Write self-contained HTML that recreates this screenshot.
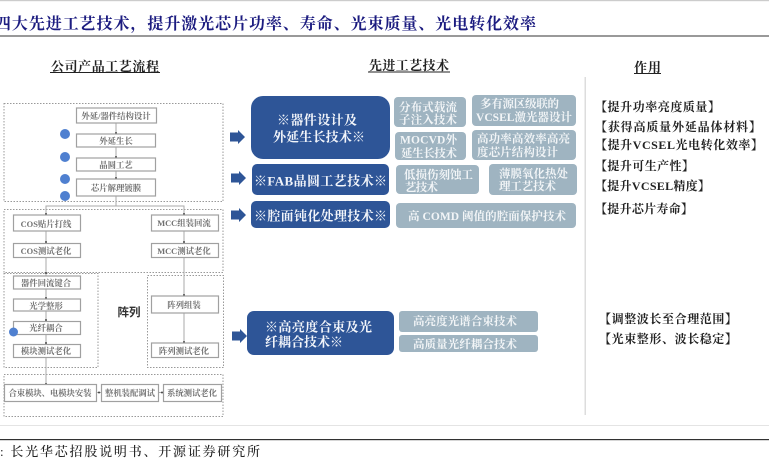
<!DOCTYPE html>
<html><head><meta charset="utf-8">
<style>
html,body{margin:0;padding:0;background:#fff;width:769px;height:461px;overflow:hidden}
svg{display:block}
text{font-family:"Liberation Serif","Noto Serif CJK SC",serif;}
.t{font-size:16px;font-weight:700;fill:#1c1c80}
.h{font-size:13px;font-weight:700;fill:#222}
.b{fill:#fff;stroke:#a0a0a0;stroke-width:1.2}
.s{font-size:8.4px;font-weight:700;fill:#707070;text-anchor:middle}
.d{fill:none;stroke:#999;stroke-width:1;stroke-dasharray:1.5 1.5}
.l{stroke:#aaa;stroke-width:1;fill:none}
.w{font-size:13px;font-weight:700;fill:#f2f5fa}
.g{font-size:11.5px;font-weight:700;fill:#f2f5f7}
.r{font-size:12px;fill:#222;font-weight:700}
.ar{fill:#2f5597}
.c{fill:#5080d0}
</style></head><body>
<svg width="769" height="461" viewBox="0 0 769 461" xmlns="http://www.w3.org/2000/svg">
<defs><filter id="bl" x="-2%" y="-2%" width="104%" height="104%"><feGaussianBlur stdDeviation="0.35"/></filter></defs>
<g filter="url(#bl)">
<rect x="0" y="0" width="769" height="1.2" fill="#ccc"/>
<text class="t" x="-5" y="29" textLength="541" lengthAdjust="spacing">四大先进工艺技术&#xFF0C;提升激光芯片功率、寿命、光束质量、光电转化效率</text>
<rect x="0" y="35" width="769" height="2" fill="#999"/>

<text class="h" x="51" y="71" textLength="108" lengthAdjust="spacing">公司产品工艺流程</text>
<rect x="50" y="72" width="110" height="1" fill="#222"/>
<text class="h" x="369" y="70" textLength="80" lengthAdjust="spacing">先进工艺技术</text>
<rect x="368" y="71.500" width="82" height="1" fill="#222"/>
<text class="h" x="634" y="72" textLength="27" lengthAdjust="spacing">作用</text>
<rect x="634" y="73" width="27" height="1" fill="#222"/>

<!-- dotted groups -->
<rect class="d" x="4" y="103.500" width="219" height="98"/>
<rect class="d" x="4" y="209.500" width="219" height="63"/>
<rect class="d" x="4" y="273.500" width="94" height="94"/>
<rect class="d" x="147.500" y="275.500" width="76" height="92"/>
<rect class="d" x="4" y="374.500" width="219" height="42"/>

<!-- connectors -->
<path class="l" d="M116 123V196M116 196V206M46 215V206H184V215M46 231V384M184 231V343"/>
<path class="l" d="M96 392.500H101M158 392.500H163"/>
<g fill="#444">
<circle cx="116" cy="133" r="1"/><circle cx="116" cy="157" r="1"/><circle cx="116" cy="178" r="1"/>
<circle cx="46" cy="214" r="1"/><circle cx="184" cy="214" r="1"/><circle cx="46" cy="242" r="1"/><circle cx="184" cy="242" r="1"/>
<circle cx="46" cy="273" r="1"/><circle cx="46" cy="298" r="1"/><circle cx="46" cy="320" r="1"/><circle cx="46" cy="343" r="1"/><circle cx="46" cy="384" r="1"/>
<circle cx="184" cy="295" r="1"/><circle cx="184" cy="342" r="1"/><circle cx="99" cy="392.500" r="1"/><circle cx="162" cy="392.500" r="1"/>
</g>

<!-- process boxes -->
<rect class="b" x="76.500" y="108" width="80" height="15"/><text class="s" x="116" y="119">外延/器件结构设计</text>
<rect class="b" x="76.500" y="134" width="79" height="13"/><text class="s" x="116" y="144">外延生长</text>
<rect class="b" x="76.500" y="158" width="79" height="13"/><text class="s" x="116" y="168">晶圆工艺</text>
<rect class="b" x="76.500" y="179" width="79" height="17"/><text class="s" x="116" y="191">芯片解理镀膜</text>
<rect class="b" x="13.500" y="215" width="67" height="16"/><text class="s" x="46" y="227">COS贴片打线</text>
<rect class="b" x="151.500" y="215" width="67" height="16"/><text class="s" x="184" y="226">MCC组装回流</text>
<rect class="b" x="13.500" y="243.500" width="67" height="14"/><text class="s" x="46" y="254">COS测试老化</text>
<rect class="b" x="151.500" y="243.500" width="67" height="14"/><text class="s" x="184" y="254">MCC测试老化</text>
<rect class="b" x="13.500" y="276" width="67" height="13"/><text class="s" x="46" y="286">器件回流键合</text>
<rect class="b" x="13.500" y="299" width="67" height="12"/><text class="s" x="46" y="309">光学整形</text>
<rect class="b" x="13.500" y="321.500" width="67" height="13"/><text class="s" x="46" y="331">光纤耦合</text>
<rect class="b" x="13.500" y="344.500" width="67" height="13"/><text class="s" x="46" y="354">模块测试老化</text>
<rect class="b" x="151.500" y="296" width="67" height="17"/><text class="s" x="184" y="308">阵列组装</text>
<rect class="b" x="151.500" y="343" width="67" height="14.500"/><text class="s" x="184" y="354">阵列测试老化</text>
<rect class="b" x="4.500" y="384.500" width="92" height="17"/><text class="s" x="50" y="396" textLength="83" lengthAdjust="spacing">合束模块、电模块安装</text>
<rect class="b" x="101.500" y="384.500" width="57" height="17"/><text class="s" x="130" y="396" textLength="50" lengthAdjust="spacing">整机装配调试</text>
<rect class="b" x="163.500" y="384.500" width="58" height="17"/><text class="s" x="192" y="396" textLength="50" lengthAdjust="spacing">系统测试老化</text>
<text x="129" y="316" text-anchor="middle" style="font-size:11.500px;font-weight:700;fill:#333;font-family:'Liberation Sans','Noto Sans CJK SC',sans-serif">阵列</text>

<circle class="c" cx="65" cy="134" r="5"/>
<circle class="c" cx="65" cy="157" r="5"/>
<circle class="c" cx="65" cy="179" r="5"/>
<circle class="c" cx="65" cy="196" r="5"/>
<circle class="c" cx="13.500" cy="332" r="4.500"/>

<!-- arrows -->
<path class="ar" d="M230 132.500H238V130L245 137L238 144V141.500H230Z"/>
<path class="ar" d="M231 173.500H239V171L246 178L239 185V182.500H231Z"/>
<path class="ar" d="M231 210.500H239V208L246 215L239 222V219.500H231Z"/>
<path class="ar" d="M232 331.500H240V329L247 336L240 343V340.500H232Z"/>

<!-- blue boxes -->
<rect x="251" y="96" width="139" height="63" rx="12" fill="#2f5597"/>
<rect x="252" y="164" width="137" height="31" rx="5" fill="#2f5597"/>
<rect x="251" y="201" width="139" height="27" rx="5" fill="#2f5597"/>
<rect x="247" y="311" width="147" height="44" rx="7" fill="#2f5597"/>
<text class="w" x="277" y="124.500" textLength="80" lengthAdjust="spacing">※器件设计及</text>
<text class="w" x="273" y="141.500" textLength="92" lengthAdjust="spacing">外延生长技术※</text>
<text class="w" x="254" y="185.500" textLength="133" lengthAdjust="spacing">※FAB晶圆工艺技术※</text>
<text class="w" x="254" y="220.500" textLength="133" lengthAdjust="spacing">※腔面钝化处理技术※</text>
<text class="w" x="265" y="331.500" textLength="107" lengthAdjust="spacing">※高亮度合束及光</text>
<text class="w" x="265" y="346.500" textLength="78" lengthAdjust="spacing">纤耦合技术※</text>

<!-- grey boxes -->
<g fill="#9fb4c1">
<rect x="394" y="97" width="72" height="30" rx="4"/>
<rect x="472" y="95" width="104" height="31" rx="4"/>
<rect x="395" y="132" width="71" height="28" rx="4"/>
<rect x="472" y="130" width="104" height="30" rx="4"/>
<rect x="396" y="165" width="83" height="29" rx="4"/>
<rect x="489" y="164" width="88" height="31" rx="4"/>
<rect x="396" y="203" width="180" height="25" rx="4"/>
<rect x="399" y="311" width="139" height="21" rx="3"/>
<rect x="399" y="335" width="139" height="17" rx="3"/>
</g>
<text class="g" x="399" y="111" textLength="58" lengthAdjust="spacing">分布式载流</text>
<text class="g" x="399" y="123.500" textLength="58" lengthAdjust="spacing">子注入技术</text>
<text class="g" x="480" y="107.500" textLength="79" lengthAdjust="spacing">多有源区级联的</text>
<text class="g" x="476" y="121" textLength="96" lengthAdjust="spacing">VCSEL激光器设计</text>
<text class="g" x="400" y="143.500" textLength="57" lengthAdjust="spacing">MOCVD外</text>
<text class="g" x="401" y="157" textLength="56" lengthAdjust="spacing">延生长技术</text>
<text class="g" x="477" y="142.500" textLength="93" lengthAdjust="spacing">高功率高效率高亮</text>
<text class="g" x="477" y="156" textLength="81" lengthAdjust="spacing">度芯片结构设计</text>
<text class="g" x="404" y="178.500" textLength="69" lengthAdjust="spacing">低损伤刻蚀工</text>
<text class="g" x="405" y="191" textLength="33" lengthAdjust="spacing">艺技术</text>
<text class="g" x="499" y="177.500" textLength="69" lengthAdjust="spacing">薄膜氧化热处</text>
<text class="g" x="499" y="190" textLength="57" lengthAdjust="spacing">理工艺技术</text>
<text class="g" x="408" y="220" textLength="158" lengthAdjust="spacing">高 COMD 阈值的腔面保护技术</text>
<text class="g" x="413" y="325" textLength="104" lengthAdjust="spacing">高亮度光谱合束技术</text>
<text class="g" x="413" y="348" textLength="104" lengthAdjust="spacing">高质量光纤耦合技术</text>

<!-- divider -->
<rect x="584.500" y="77" width="1.500" height="338" fill="#ddd"/>

<!-- effects -->
<text class="r" x="595" y="111" textLength="125" lengthAdjust="spacing">【提升功率亮度质量】</text>
<text class="r" x="595" y="131" textLength="166" lengthAdjust="spacing">【获得高质量外延晶体材料】</text>
<text class="r" x="595" y="149" textLength="168" lengthAdjust="spacing">【提升VCSEL光电转化效率】</text>
<text class="r" x="595" y="170" textLength="99" lengthAdjust="spacing">【提升可生产性】</text>
<text class="r" x="595" y="190" textLength="115" lengthAdjust="spacing">【提升VCSEL精度】</text>
<text class="r" x="595" y="213" textLength="98" lengthAdjust="spacing">【提升芯片寿命】</text>
<text class="r" x="599" y="323" textLength="138" lengthAdjust="spacing">【调整波长至合理范围】</text>
<text class="r" x="599" y="343" textLength="138" lengthAdjust="spacing">【光束整形、波长稳定】</text>

<!-- footer -->
<rect x="0" y="425" width="769" height="1" fill="#e4e4e4"/>
<rect x="0" y="439" width="769" height="1.200" fill="#333"/>
<text x="0" y="456" textLength="260" lengthAdjust="spacing" style="font-size:13px;fill:#222;font-weight:500">: 长光华芯招股说明书、开源证券研究所</text>
</g>
</svg>
</body></html>
